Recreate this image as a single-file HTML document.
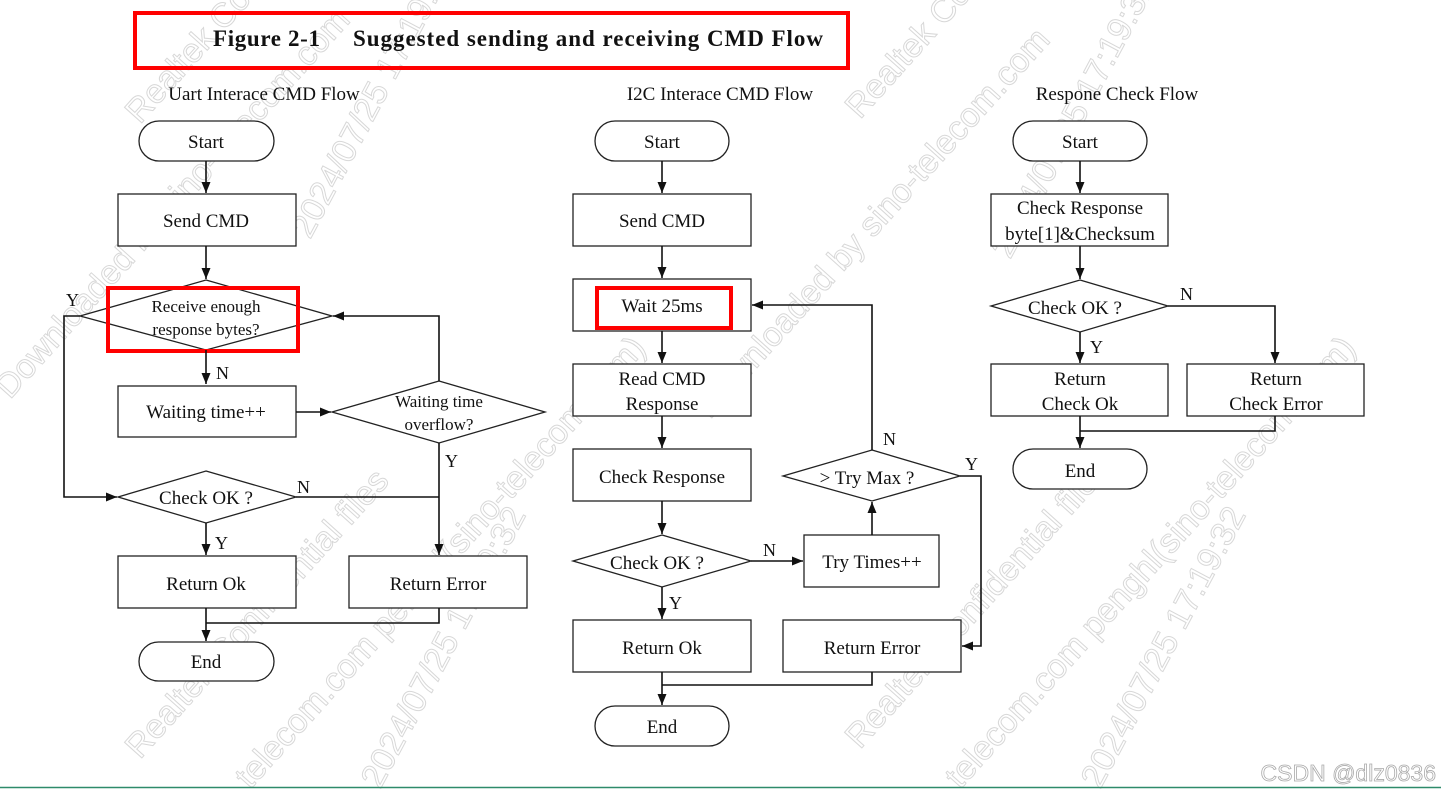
<!DOCTYPE html>
<html><head><meta charset="utf-8"><style>
html,body{margin:0;padding:0;background:#fff;width:1441px;height:797px;overflow:hidden}
svg{display:block}
text{font-family:"Liberation Serif",serif;fill:#111}
.t{font-size:19px;text-anchor:middle}
.l{font-size:18px}
.s{fill:#fff;stroke:#222;stroke-width:1.3}
.c{fill:none;stroke:#111;stroke-width:1.6}
.wm{font-family:"Liberation Sans",sans-serif;font-size:34px;fill:none;stroke:#d8d8d8;stroke-width:1}
</style></head><body>
<svg width="1441" height="797" viewBox="0 0 1441 797" xmlns="http://www.w3.org/2000/svg">
<defs><marker id="a" markerWidth="12" markerHeight="12" refX="11" refY="6" orient="auto" markerUnits="userSpaceOnUse"><path d="M0,1.5 L11,6 L0,10.5 z" fill="#111"/></marker></defs>

<g>
<text class="wm" transform="translate(140,125) rotate(-48)">Realtek Confidential files</text>
<text class="wm" transform="translate(10,400) rotate(-48)">Downloaded by sino-telecom.com</text>
<text class="wm" transform="translate(310,240) rotate(-62)">2024/07/25 17:19:32</text>
<text class="wm" transform="translate(140,760) rotate(-48)">Realtek Confidential files</text>
<text class="wm" transform="translate(250,790) rotate(-48)">telecom.com penghl(sino-telecom.com)</text>
<text class="wm" transform="translate(860,120) rotate(-48)">Realtek Confidential files</text>
<text class="wm" transform="translate(710,420) rotate(-48)">Downloaded by sino-telecom.com</text>
<text class="wm" transform="translate(1010,260) rotate(-62)">2024/07/25 17:19:32</text>
<text class="wm" transform="translate(860,750) rotate(-48)">Realtek Confidential files</text>
<text class="wm" transform="translate(960,790) rotate(-48)">telecom.com penghl(sino-telecom.com)</text>
<text class="wm" transform="translate(380,790) rotate(-62)">2024/07/25 17:19:32</text>
<text class="wm" transform="translate(1100,790) rotate(-62)">2024/07/25 17:19:32</text>
</g>

<rect x="135" y="13" width="713" height="55" fill="none" stroke="#f00" stroke-width="4"/>
<text x="213" y="46" textLength="107" style="font-size:23px;font-weight:bold">Figure 2-1</text>
<text x="353" y="46" textLength="470" style="font-size:23px;font-weight:bold">Suggested sending and receiving CMD Flow</text>

<text class="t" x="264" y="100">Uart Interace CMD Flow</text>
<text class="t" x="720" y="100">I2C Interace CMD Flow</text>
<text class="t" x="1117" y="100">Respone Check Flow</text>

<rect class="s" x="139" y="121" width="135" height="40" rx="20"/><text class="t" x="206" y="148">Start</text>
<line class="c" x1="206" y1="161" x2="206" y2="193" marker-end="url(#a)"/>
<rect class="s" x="118" y="194" width="178" height="52"/><text class="t" x="206" y="227">Send CMD</text>
<line class="c" x1="206" y1="246" x2="206" y2="279" marker-end="url(#a)"/>
<polygon class="s" points="206,280 332,316 206,350 80,316"/>
<text class="t" x="206" y="312" style="font-size:17px">Receive enough</text>
<text class="t" x="206" y="335" style="font-size:17px">response bytes?</text>
<rect x="108" y="288" width="190" height="63" fill="none" stroke="#f00" stroke-width="4"/>
<text class="l" x="66" y="306">Y</text>
<polyline class="c" points="80,316 64,316 64,497 117,497" marker-end="url(#a)"/>
<line class="c" x1="206" y1="350" x2="206" y2="384" marker-end="url(#a)"/>
<text class="l" x="216" y="379">N</text>
<rect class="s" x="118" y="386" width="178" height="51"/><text class="t" x="206" y="418">Waiting time++</text>
<line class="c" x1="296" y1="412" x2="331" y2="412" marker-end="url(#a)"/>
<polygon class="s" points="439,381 545,412 439,443 332,412"/>
<text class="t" x="439" y="407" style="font-size:17px">Waiting time</text>
<text class="t" x="439" y="430" style="font-size:17px">overflow?</text>
<polyline class="c" points="439,381 439,316 333,316" marker-end="url(#a)"/>
<line class="c" x1="439" y1="443" x2="439" y2="555" marker-end="url(#a)"/>
<text class="l" x="445" y="467">Y</text>
<polygon class="s" points="206,471 296,497 206,523 118,497"/>
<text class="t" x="206" y="504">Check OK ?</text>
<line class="c" x1="296" y1="497" x2="439" y2="497"/>
<text class="l" x="297" y="493">N</text>
<line class="c" x1="206" y1="523" x2="206" y2="555" marker-end="url(#a)"/>
<text class="l" x="215" y="549">Y</text>
<rect class="s" x="118" y="556" width="178" height="52"/><text class="t" x="206" y="590">Return Ok</text>
<rect class="s" x="349" y="556" width="178" height="52"/><text class="t" x="438" y="590">Return Error</text>
<polyline class="c" points="439,608 439,623 206,623"/>
<line class="c" x1="206" y1="608" x2="206" y2="641" marker-end="url(#a)"/>
<rect class="s" x="139" y="642" width="135" height="39" rx="19.5"/><text class="t" x="206" y="668">End</text>

<rect class="s" x="595" y="121" width="134" height="40" rx="20"/><text class="t" x="662" y="148">Start</text>
<line class="c" x1="662" y1="161" x2="662" y2="193" marker-end="url(#a)"/>
<rect class="s" x="573" y="194" width="178" height="52"/><text class="t" x="662" y="227">Send CMD</text>
<line class="c" x1="662" y1="246" x2="662" y2="278" marker-end="url(#a)"/>
<rect class="s" x="573" y="279" width="178" height="52"/><text class="t" x="662" y="312">Wait 25ms</text>
<rect x="597" y="288" width="134" height="40" fill="none" stroke="#f00" stroke-width="4"/>
<line class="c" x1="662" y1="331" x2="662" y2="363" marker-end="url(#a)"/>
<rect class="s" x="573" y="364" width="178" height="52"/>
<text class="t" x="662" y="385">Read CMD</text><text class="t" x="662" y="410">Response</text>
<line class="c" x1="662" y1="416" x2="662" y2="448" marker-end="url(#a)"/>
<rect class="s" x="573" y="449" width="178" height="52"/><text class="t" x="662" y="483">Check Response</text>
<line class="c" x1="662" y1="501" x2="662" y2="534" marker-end="url(#a)"/>
<polygon class="s" points="662,535 751,561 662,587 573,561"/>
<text class="t" x="657" y="569">Check OK ?</text>
<line class="c" x1="751" y1="561" x2="803" y2="561" marker-end="url(#a)"/>
<text class="l" x="763" y="556">N</text>
<rect class="s" x="804" y="535" width="135" height="52"/><text class="t" x="872" y="568">Try Times++</text>
<line class="c" x1="872" y1="535" x2="872" y2="502" marker-end="url(#a)"/>
<polygon class="s" points="872,450 960,476 872,501 783,476"/>
<text class="t" x="867" y="484">&gt; Try Max ?</text>
<polyline class="c" points="872,450 872,305 752,305" marker-end="url(#a)"/>
<text class="l" x="883" y="445">N</text>
<polyline class="c" points="960,476 981,476 981,646 962,646" marker-end="url(#a)"/>
<text class="l" x="965" y="470">Y</text>
<line class="c" x1="662" y1="587" x2="662" y2="619" marker-end="url(#a)"/>
<text class="l" x="669" y="609">Y</text>
<rect class="s" x="573" y="620" width="178" height="52"/><text class="t" x="662" y="654">Return Ok</text>
<rect class="s" x="783" y="620" width="178" height="52"/><text class="t" x="872" y="654">Return Error</text>
<polyline class="c" points="872,672 872,685 662,685"/>
<line class="c" x1="662" y1="672" x2="662" y2="705" marker-end="url(#a)"/>
<rect class="s" x="595" y="706" width="134" height="40" rx="20"/><text class="t" x="662" y="733">End</text>

<rect class="s" x="1013" y="121" width="134" height="40" rx="20"/><text class="t" x="1080" y="148">Start</text>
<line class="c" x1="1080" y1="161" x2="1080" y2="193" marker-end="url(#a)"/>
<rect class="s" x="991" y="194" width="177" height="52"/>
<text class="t" x="1080" y="214">Check Response</text><text class="t" x="1080" y="240">byte[1]&amp;Checksum</text>
<line class="c" x1="1080" y1="246" x2="1080" y2="279" marker-end="url(#a)"/>
<polygon class="s" points="1080,280 1168,306 1080,332 991,306"/>
<text class="t" x="1075" y="314">Check OK ?</text>
<polyline class="c" points="1168,306 1275,306 1275,363" marker-end="url(#a)"/>
<text class="l" x="1180" y="300">N</text>
<line class="c" x1="1080" y1="332" x2="1080" y2="363" marker-end="url(#a)"/>
<text class="l" x="1090" y="353">Y</text>
<rect class="s" x="991" y="364" width="177" height="52"/>
<text class="t" x="1080" y="385">Return</text><text class="t" x="1080" y="410">Check Ok</text>
<rect class="s" x="1187" y="364" width="177" height="52"/>
<text class="t" x="1276" y="385">Return</text><text class="t" x="1276" y="410">Check Error</text>
<polyline class="c" points="1275,416 1275,431 1080,431"/>
<line class="c" x1="1080" y1="416" x2="1080" y2="448" marker-end="url(#a)"/>
<rect class="s" x="1013" y="449" width="134" height="40" rx="20"/><text class="t" x="1080" y="477">End</text>

<text x="1436" y="781" style="font-family:'Liberation Sans',sans-serif;font-size:23px;fill:#fff;stroke:#aaa;stroke-width:0.8;text-anchor:end">CSDN @dlz0836</text>
<line x1="0" y1="787.5" x2="1441" y2="787.5" stroke="#2e8b6a" stroke-width="1.5"/>
</svg>
</body></html>
